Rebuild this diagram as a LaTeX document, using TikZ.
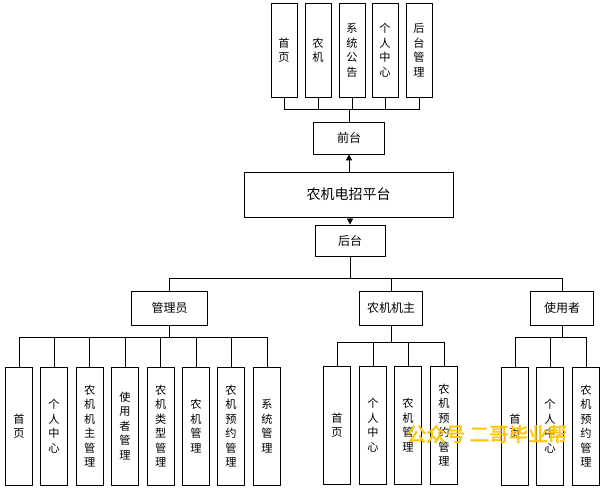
\documentclass[tikz,border=0pt]{standalone}
\usepackage{fontspec}
\setmainfont{Noto Sans CJK SC}
\newfontfamily\wmfont[FakeBold=2]{Noto Sans CJK SC}
\usetikzlibrary{arrows.meta}
\definecolor{wmcol}{RGB}{255,196,0}
\begin{document}
\begin{tikzpicture}[x=1pt,y=-1pt,
  box/.style={draw, line width=0.8pt, inner sep=0pt, align=center, fill=white,
    font=\fontsize{11.2}{14.5}\selectfont},
  tallbox/.style={box, minimum width=26pt, minimum height=94pt},
  lowbox/.style={box, minimum width=27pt, minimum height=118pt},
  rolebox/.style={box, minimum height=34pt, font=\fontsize{12}{14}\selectfont},
  conn/.style={line width=0.8pt},
  arr/.style={line width=0.8pt, -{Triangle[width=6pt,length=6pt]}}]
\useasboundingbox (0,0) rectangle (604,493);
% top row
\node[tallbox] (t1) at (284,50.3) {首\\页};
\node[tallbox] (t2) at (318,50.3) {农\\机};
\node[tallbox] (t3) at (352,50.3) {系\\统\\公\\告};
\node[tallbox] (t4) at (385,50.3) {个\\人\\中\\心};
\node[tallbox] (t5) at (419,50.3) {后\\台\\管\\理};
\node[rolebox, minimum width=71pt, minimum height=32pt] (qt) at (349,138) {前台};
\node[box, minimum width=209pt, minimum height=45pt, font=\fontsize{14}{16}\selectfont] (plat) at (348.5,194.5) {农机电招平台};
\node[rolebox, minimum width=70pt, minimum height=31pt] (ht) at (350,240.5) {后台};
% roles
\node[rolebox, minimum width=75.6pt] (gly) at (169.5,308.3) {管理员};
\node[rolebox, minimum width=63pt] (nj) at (391,308.3) {农机机主};
\node[rolebox, minimum width=63pt] (syz) at (562,308.3) {使用者};
% admin children
\node[lowbox] (a1) at (19,426) {首\\页};
\node[lowbox] (a2) at (54,426) {个\\人\\中\\心};
\node[lowbox] (a3) at (89.7,426) {农\\机\\机\\主\\管\\理};
\node[lowbox] (a4) at (125,426) {使\\用\\者\\管\\理};
\node[lowbox] (a5) at (160.7,426) {农\\机\\类\\型\\管\\理};
\node[lowbox] (a6) at (196,426) {农\\机\\管\\理};
\node[lowbox] (a7) at (231,426) {农\\机\\预\\约\\管\\理};
\node[lowbox] (a8) at (267,426) {系\\统\\管\\理};
% owner children
\node[lowbox] (n1) at (337,425) {首\\页};
\node[lowbox] (n2) at (373,425) {个\\人\\中\\心};
\node[lowbox] (n3) at (408,425) {农\\机\\管\\理};
\node[lowbox] (n4) at (444,425) {农\\机\\预\\约\\管\\理};
% user children
\node[lowbox] (u1) at (515,426) {首\\页};
\node[lowbox] (u2) at (550,426) {个\\人\\中\\心};
\node[lowbox] (u3) at (586,426) {农\\机\\预\\约\\管\\理};
% connectors: top
\path (qt.north) ++(0,-12) coordinate (tb);
\draw[conn] (qt.north) -- (tb);
\foreach \i in {1,...,5} \draw[conn] (t\i.south) |- (tb);
\draw[arr] (qt.south |- plat.north) -- (qt.south);
\draw[arr] (ht.north |- plat.south) -- (ht.north);
% root bus
\path (ht.south) ++(0,22) coordinate (rb);
\draw[conn] (ht.south) -- (rb);
\foreach \n in {gly,nj,syz} \draw[conn] (\n.north) |- (rb);
% admin bus
\path (gly.south) ++(0,12) coordinate (ab);
\draw[conn] (gly.south) -- (ab);
\foreach \i in {1,...,8} \draw[conn] (a\i.north) |- (ab);
% owner bus
\path (nj.south) ++(0,17) coordinate (nb);
\draw[conn] (nj.south) -- (nb);
\foreach \i in {1,...,4} \draw[conn] (n\i.north) |- (nb);
% user bus
\path (syz.south) ++(0,12) coordinate (ub);
\draw[conn] (syz.south) -- (ub);
\foreach \i in {1,...,3} \draw[conn] (u\i.north) |- (ub);
% watermark
\node[text=wmcol, font=\wmfont\fontsize{19.5}{20}\selectfont, inner sep=0pt] (wm) at (487,434) {公众号\ 二哥毕业帮};
\end{tikzpicture}
\end{document}
